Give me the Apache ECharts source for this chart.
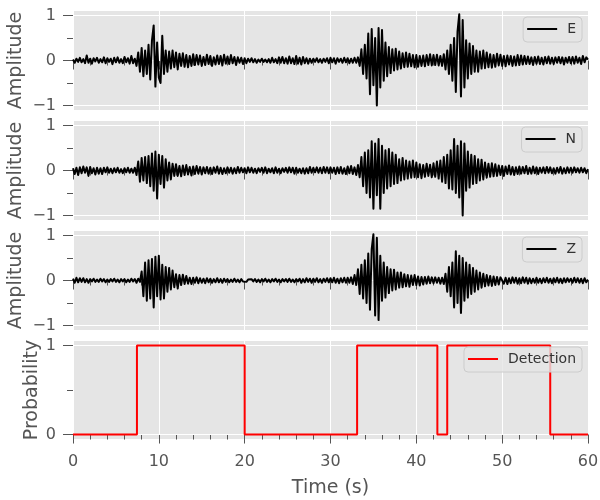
<!DOCTYPE html>
<html><head><meta charset="utf-8">
<script src="https://cdn.jsdelivr.net/npm/echarts@6/dist/echarts.min.js"></script>
<style>html,body{margin:0;padding:0;background:#fff}#c{width:600px;height:500px}</style>
</head><body><div id="c"></div><script>
// sampling interval of the traces (s)
const dt = 0.2;
// East component, normalised amplitude (one line per second)
const eAmp = [
0.02,-0.05,0.04,-0.03,0.06,
-0.04,0.03,-0.06,0.11,-0.05,
0.04,-0.07,0.05,-0.02,0.06,
-0.05,0.03,-0.04,0.07,-0.06,
0.05,-0.03,0.04,-0.08,0.06,
-0.04,0.07,-0.05,0.03,-0.06,
0.08,-0.04,0.05,-0.07,0.10,
-0.06,0.04,-0.12,0.18,-0.25,
0.28,-0.35,0.22,-0.30,0.35,
-0.42,0.45,0.78,-0.58,0.40,
-0.38,-0.50,0.55,-0.30,0.22,
-0.25,0.20,-0.18,0.22,-0.15,
0.18,-0.20,0.15,-0.12,0.16,
-0.14,0.12,-0.15,0.10,-0.12,
0.14,-0.10,0.12,-0.09,0.11,
-0.12,0.08,-0.10,0.13,-0.08,
0.10,-0.12,0.07,-0.09,0.11,
-0.08,0.10,-0.11,0.13,-0.07,
0.09,-0.08,0.12,-0.06,0.08,
-0.10,0.07,-0.05,0.06,-0.08,
0.05,-0.06,0.04,-0.03,0.05,
-0.04,0.03,-0.05,0.02,-0.03,
0.04,-0.03,0.02,-0.04,0.03,
-0.05,0.06,-0.04,0.03,-0.06,
0.07,-0.05,0.08,-0.06,0.05,
-0.07,0.09,-0.06,0.05,-0.08,
0.10,-0.07,0.06,-0.09,0.08,
-0.06,0.05,-0.07,0.04,-0.05,
0.04,-0.03,0.05,-0.04,0.03,
-0.05,0.04,-0.03,0.05,-0.06,
0.06,-0.04,0.05,-0.07,0.05,
-0.03,0.04,-0.05,0.06,-0.04,
0.05,-0.06,0.04,-0.05,0.06,
-0.05,0.07,-0.12,0.25,-0.30,
0.35,-0.40,0.60,-0.75,0.70,
-0.55,0.50,-1.00,0.72,-0.60,
0.68,-0.45,0.40,-0.35,0.30,
-0.28,0.25,-0.22,0.26,-0.20,
0.20,-0.18,0.16,-0.15,0.18,
-0.14,0.15,-0.13,0.12,-0.15,
0.12,-0.14,0.10,-0.12,0.11,
-0.13,0.12,-0.10,0.14,-0.11,
0.12,-0.10,0.13,-0.11,0.10,
-0.12,0.14,-0.20,0.22,-0.30,
0.35,-0.45,0.50,-0.70,0.65,
1.03,-0.80,0.90,-0.60,0.45,
-0.40,0.38,-0.30,0.32,-0.25,
0.22,-0.25,0.20,-0.18,0.22,
-0.17,0.18,-0.15,0.14,-0.16,
0.12,-0.14,0.15,-0.11,0.13,
-0.12,0.10,-0.13,0.11,-0.09,
0.10,-0.12,0.09,-0.11,0.12,
-0.10,0.11,-0.09,0.10,-0.08,
0.09,-0.08,0.07,-0.10,0.08,
-0.07,0.09,-0.08,0.06,-0.09,
0.08,-0.06,0.09,-0.07,0.06,
-0.08,0.07,-0.05,0.08,-0.06,
0.07,-0.09,0.06,-0.05,0.08,
-0.06,0.08,-0.07,0.09,-0.05,
0.06,-0.08,0.10,-0.04,0.07,
0.02];
// North component
const nAmp = [
0.05,-0.08,0.06,-0.10,0.07,
-0.06,0.09,-0.05,0.07,-0.12,
0.08,-0.06,0.05,-0.09,0.06,
-0.07,0.05,-0.08,0.06,-0.04,
0.07,-0.05,0.04,-0.06,0.05,
-0.04,0.06,-0.05,0.03,-0.06,
0.05,-0.04,0.06,-0.05,0.04,
-0.05,0.06,-0.10,0.20,-0.25,
0.28,-0.22,0.30,-0.28,0.32,
-0.35,0.38,-0.45,0.42,-0.62,
0.35,-0.30,0.32,-0.38,0.25,
-0.22,0.18,-0.20,0.15,-0.12,
0.14,-0.12,0.10,-0.13,0.11,
-0.10,0.12,-0.09,0.08,-0.11,
0.09,-0.08,0.10,-0.07,0.08,
-0.09,0.07,-0.06,0.08,-0.07,
0.06,-0.08,0.07,-0.05,0.09,
-0.07,0.06,-0.08,0.05,-0.06,
0.07,-0.05,0.06,-0.07,0.05,
-0.06,0.08,-0.05,0.06,-0.04,
0.05,-0.06,0.07,-0.04,0.06,
-0.05,0.04,-0.06,0.05,-0.03,
0.06,-0.05,0.07,-0.06,0.04,
-0.04,0.05,-0.06,0.07,-0.05,
0.04,-0.06,0.05,-0.03,0.06,
-0.05,0.07,-0.04,0.06,-0.07,
0.06,-0.05,0.04,-0.06,0.05,
-0.07,0.05,-0.06,0.08,-0.05,
0.06,-0.04,0.07,-0.05,0.06,
-0.06,0.08,-0.05,0.07,-0.06,
0.07,-0.05,0.06,-0.08,0.07,
-0.06,0.08,-0.07,0.05,-0.08,
0.09,-0.06,0.10,-0.08,0.07,
-0.10,0.12,-0.15,0.30,-0.35,
0.40,-0.50,0.45,-0.60,0.65,
-0.85,0.60,-0.55,0.70,-0.85,
0.55,-0.50,0.45,-0.40,0.48,
-0.35,0.40,-0.30,0.35,-0.28,
0.25,-0.22,0.28,-0.20,0.22,
-0.18,0.20,-0.16,0.22,-0.15,
0.18,-0.15,0.14,-0.17,0.12,
-0.14,0.15,-0.12,0.13,-0.15,
0.16,-0.14,0.20,-0.18,0.22,
-0.25,0.30,-0.28,0.35,-0.40,
0.45,-0.42,0.70,-0.50,0.55,
-0.60,0.65,-1.00,0.60,-0.45,
0.42,-0.38,0.35,-0.30,0.32,
-0.28,0.25,-0.22,0.24,-0.20,
0.18,-0.16,0.15,-0.14,0.16,
-0.13,0.14,-0.12,0.11,-0.10,
0.10,-0.12,0.09,-0.08,0.11,
-0.09,0.08,-0.10,0.07,-0.08,
0.09,-0.07,0.08,-0.06,0.10,
-0.08,0.06,-0.07,0.09,-0.06,
0.07,-0.08,0.06,-0.05,0.07,
-0.06,0.08,-0.05,0.07,-0.06,
0.05,-0.07,0.06,-0.05,0.08,
-0.07,0.05,-0.06,0.07,-0.05,
0.06,-0.05,0.07,-0.04,0.05,
-0.05,0.06,-0.04,0.05,-0.06,
0.03];
// Vertical component
const zAmp = [
0.04,-0.05,0.06,-0.04,0.05,
-0.03,0.05,-0.04,0.03,-0.05,
0.03,-0.02,0.04,-0.03,0.02,
-0.03,0.04,-0.02,0.03,-0.04,
0.02,-0.03,0.03,-0.02,0.04,
-0.03,0.02,-0.04,0.03,-0.02,
0.03,-0.04,0.02,-0.03,0.04,
-0.02,0.03,-0.05,0.04,-0.03,
0.20,-0.35,0.40,-0.45,0.45,
-0.40,0.48,-0.60,0.53,-0.35,
0.55,-0.42,0.35,-0.40,0.30,
-0.25,0.28,-0.20,0.22,-0.15,
0.14,-0.18,0.12,-0.10,0.13,
-0.08,0.10,-0.07,0.06,-0.08,
0.06,-0.05,0.07,-0.06,0.05,
-0.05,0.04,-0.06,0.05,-0.04,
0.04,-0.05,0.03,-0.04,0.05,
-0.04,0.03,-0.05,0.04,-0.03,
0.03,-0.04,0.02,-0.03,0.04,
-0.03,0.02,-0.04,0.03,-0.02,
0.02,-0.03,0.02,-0.02,0.03,
-0.02,0.03,-0.03,0.02,-0.04,
0.03,-0.02,0.04,-0.03,0.02,
-0.04,0.03,-0.02,0.04,-0.03,
0.02,-0.04,0.03,-0.02,0.03,
-0.03,0.04,-0.03,0.02,-0.04,
0.03,-0.02,0.04,-0.05,0.03,
-0.04,0.05,-0.03,0.04,-0.05,
0.04,-0.03,0.05,-0.04,0.03,
-0.05,0.04,-0.03,0.05,-0.04,
0.05,-0.04,0.06,-0.05,0.04,
-0.06,0.05,-0.04,0.06,-0.05,
0.06,-0.05,0.07,-0.08,0.12,
-0.10,0.25,-0.30,0.35,-0.40,
0.45,-0.50,0.60,-0.65,0.70,
1.03,-0.78,0.95,-0.88,0.55,
-0.45,0.40,-0.38,0.30,-0.28,
0.25,-0.22,0.24,-0.20,0.18,
-0.16,0.18,-0.15,0.14,-0.13,
0.12,-0.14,0.11,-0.10,0.12,
-0.10,0.09,-0.11,0.08,-0.09,
0.08,-0.07,0.09,-0.06,0.07,
-0.06,0.07,-0.05,0.06,-0.07,
0.06,-0.08,0.15,-0.25,0.30,
-0.35,0.40,-0.60,0.65,-0.50,
0.55,-0.72,0.50,-0.45,0.40,
-0.38,0.35,-0.30,0.28,-0.25,
0.22,-0.20,0.18,-0.16,0.15,
-0.13,0.12,-0.11,0.10,-0.12,
0.09,-0.10,0.08,-0.09,0.07,
0.08,-0.07,0.06,-0.08,0.05,
-0.06,0.07,-0.05,0.06,-0.07,
0.05,-0.06,0.07,-0.05,0.06,
-0.07,0.05,-0.06,0.04,-0.05,
0.06,-0.05,0.04,-0.06,0.05,
-0.04,0.06,-0.05,0.04,-0.06,
0.05,-0.04,0.06,-0.05,0.04,
-0.06,0.05,-0.04,0.05,-0.03,
0.04,-0.05,0.06,-0.04,0.05,
-0.05,0.04,-0.06,0.05,-0.04,
0.02];
// Detection probability: change times (s) and value from that time on
const detTimes = [0, 7.45, 20.0, 33.1, 42.45, 43.6, 55.6, 60];
const detProb  = [0, 1, 0, 1, 0, 1, 0, 0];

const traceNames = ['E', 'N', 'Z'];
const detName = 'Detection';
const ampTicks = [-1, 0, 1];
const ampMinor = [-0.5, 0.5];
const probTicks = [0, 1];
const probMinor = [0.5];

const FONT = 'DejaVu Sans';
const GREY = '#555555';
const tops = [11, 121, 231, 341];
const heights = [99, 99, 99, 98];
const traces = [eAmp, nAmp, zAmp];

const fmt = v => (v < 0 ? '\u2212' + Math.abs(v) : String(v));

const grid = tops.map((t, i) => ({
  left: 73, right: 12, top: t, height: heights[i],
  show: true, backgroundColor: '#E5E5E5', borderWidth: 0,
  outerBoundsMode: 'none'
}));

const xAxis = tops.map((t, i) => ({
  type: 'value', gridIndex: i, min: 0, max: 60, interval: 10,
  axisLine: { show: false },
  axisTick: { show: true, inside: false, length: 9, lineStyle: { color: GREY, width: 1 } },
  minorTick: { show: true, splitNumber: 5, length: 5, lineStyle: { color: GREY, width: 1 } },
  splitLine: { show: true, lineStyle: { color: '#ffffff', width: 1 } },
  axisLabel: { show: i === 3, fontFamily: FONT, fontSize: 16, color: GREY, margin: 15 },
  name: i === 3 ? 'Time (s)' : '',
  nameLocation: 'middle', nameGap: 40,
  nameTextStyle: { fontFamily: FONT, fontSize: 19, color: GREY }
}));

const yAxis = [];
for (let i = 0; i < 4; i++) {
  const isProb = i === 3;
  const ticks = isProb ? probTicks : ampTicks;
  yAxis.push({
    type: 'value', gridIndex: i,
    min: isProb ? -0.05 : -1.1, max: isProb ? 1.05 : 1.1,
    axisLine: { show: false },
    axisTick: { show: true, length: 10, customValues: ticks, lineStyle: { color: GREY, width: 1 } },
    axisLabel: { show: true, customValues: ticks, formatter: fmt, fontFamily: FONT, fontSize: 16, color: GREY, margin: 17 },
    splitLine: { show: false },
    name: isProb ? 'Probability' : 'Amplitude',
    nameLocation: 'middle', nameGap: isProb ? 31 : 47, nameMoveOverlap: false,
    nameTextStyle: { fontFamily: FONT, fontSize: 19, color: GREY }
  });
}
for (let i = 0; i < 4; i++) {
  const isProb = i === 3;
  const minor = isProb ? probMinor : ampMinor;
  yAxis.push({
    type: 'value', gridIndex: i, position: 'left', offset: 0,
    min: isProb ? -0.05 : -1.1, max: isProb ? 1.05 : 1.1,
    axisLine: { show: false },
    axisTick: { show: true, length: 6, customValues: minor, lineStyle: { color: GREY, width: 1 } },
    axisLabel: { show: false, customValues: minor },
    splitLine: { show: false }
  });
}

const series = [];
for (let i = 0; i < 4; i++) {
  const isProb = i === 3;
  series.push({
    type: 'line', xAxisIndex: i, yAxisIndex: i, data: [],
    silent: true, symbol: 'none',
    markLine: {
      silent: true, symbol: 'none', z: 1, animation: false,
      label: { show: false },
      lineStyle: { color: '#ffffff', width: 1, type: 'solid' },
      emphasis: { disabled: true },
      data: (isProb ? probTicks : ampTicks).map(v => ({ yAxis: v }))
    }
  });
}
traces.forEach((arr, k) => {
  series.push({
    name: traceNames[k], type: 'line', xAxisIndex: k, yAxisIndex: k,
    data: arr.map((v, j) => [j * dt, v]),
    symbol: 'none', showSymbol: false, z: 3,
    lineStyle: { color: '#000000', width: 2, join: 'round' },
    itemStyle: { color: '#000000' }
  });
});
series.push({
  name: detName, type: 'line', xAxisIndex: 3, yAxisIndex: 3,
  data: detTimes.map((t, j) => [t, detProb[j]]),
  step: 'end', symbol: 'none', showSymbol: false, z: 3,
  lineStyle: { color: '#FF0000', width: 2 },
  itemStyle: { color: '#FF0000' }
});

const legendBase = {
  right: 18, orient: 'horizontal',
  backgroundColor: 'rgba(229,229,229,0.8)', borderColor: '#CCCCCC', borderWidth: 1, borderRadius: 4,
  padding: [5, 6, 6, 4], itemWidth: 30, itemHeight: 14,
  textStyle: { fontFamily: FONT, fontSize: 14, color: '#333333', padding: [0, 0, 0, 5] },
  lineStyle: { width: 2 },
  selectedMode: false
};
const legend = [traceNames[0], traceNames[1], traceNames[2], detName].map((n, i) =>
  Object.assign({}, legendBase, { top: tops[i] + 6, data: [{ name: n, icon: 'path://M0,6 L30,6 L30,8 L0,8 Z' }] }));

const chart = echarts.init(document.getElementById('c'), null, { renderer: 'canvas' });
chart.setOption({
  animation: false,
  backgroundColor: '#ffffff',
  grid, xAxis, yAxis, series, legend
});
</script></body></html>
